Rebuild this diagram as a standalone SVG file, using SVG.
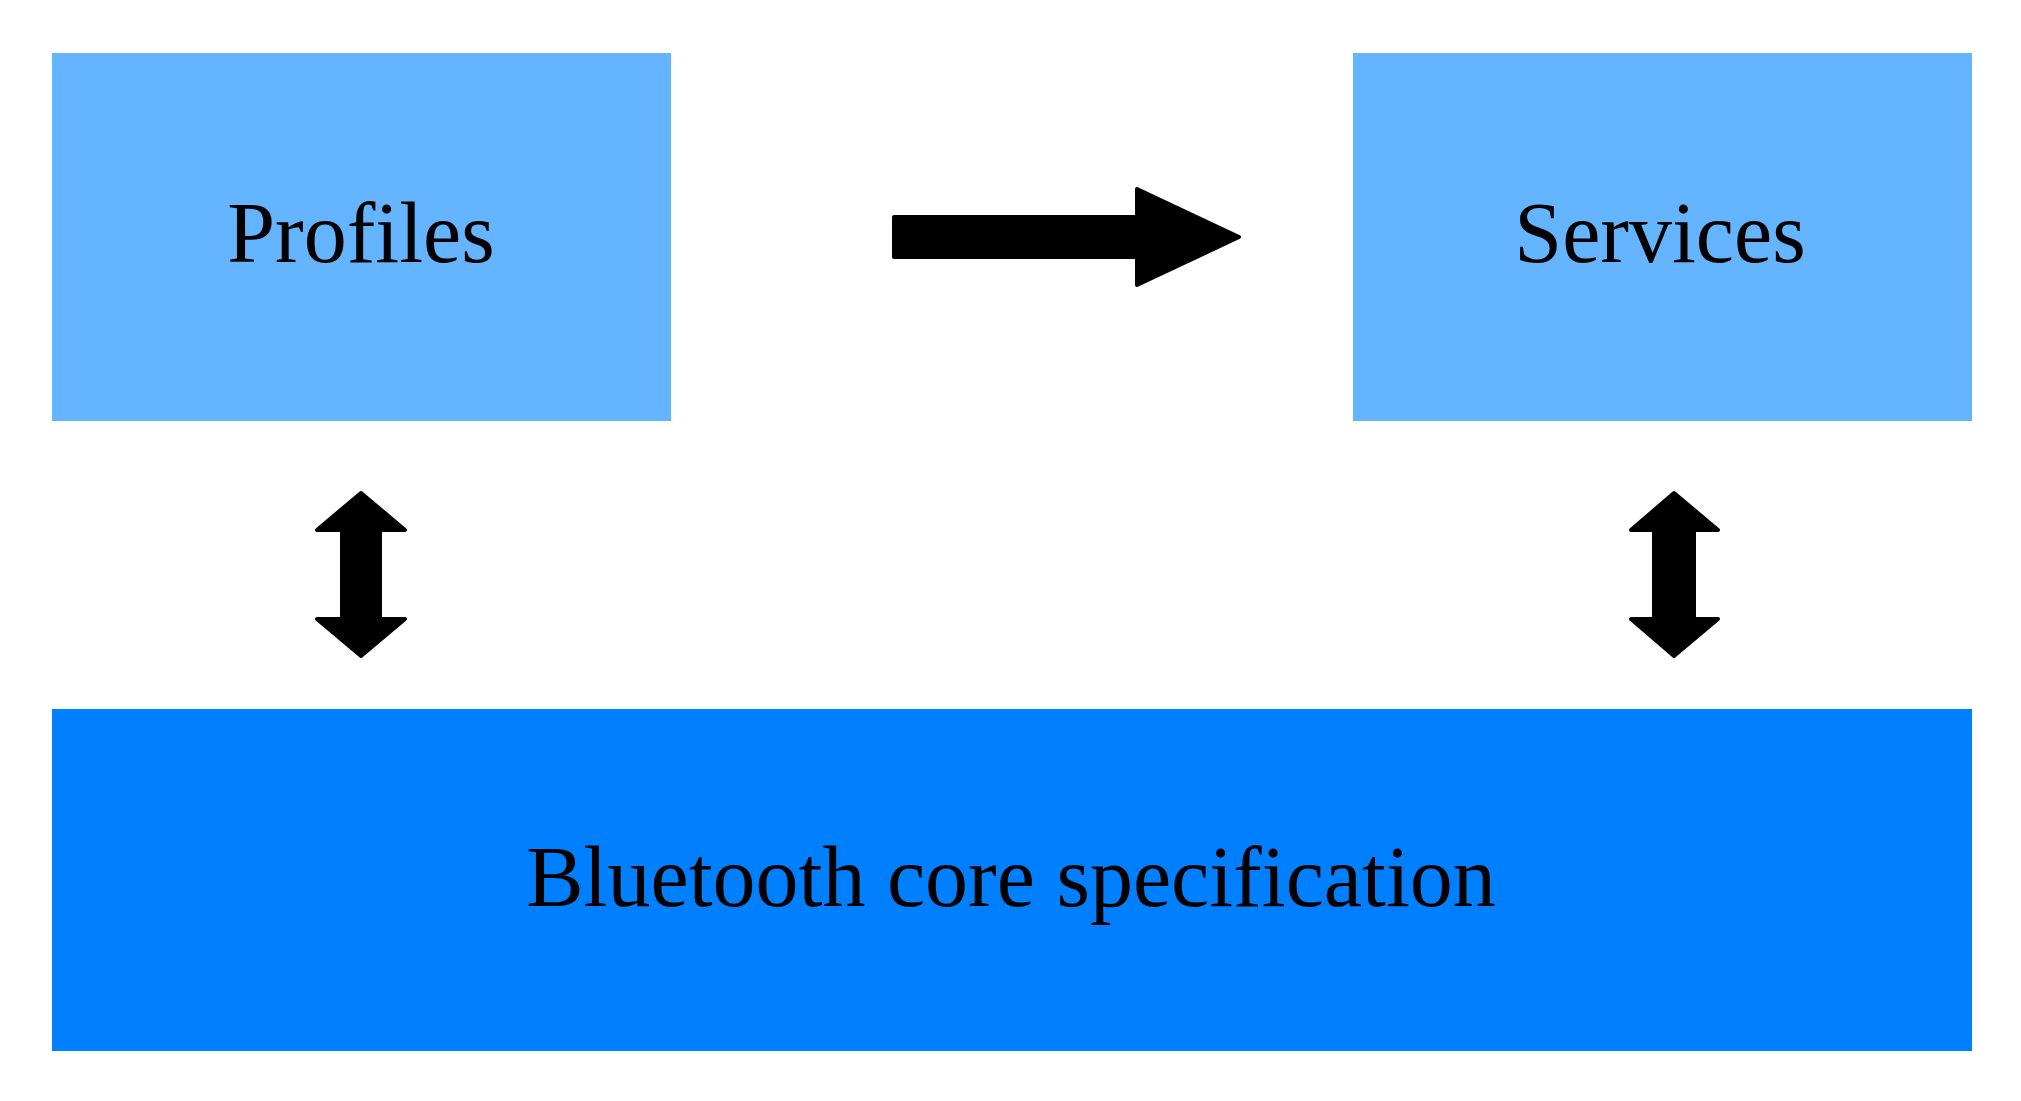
<svg xmlns="http://www.w3.org/2000/svg" width="2021" height="1101" viewBox="0 0 2021 1101">
<style>
.light{fill:#64b4ff}.dark{fill:#0080ff}
text{font-family:"Liberation Serif","DejaVu Serif",serif;font-size:86px;fill:#000;text-anchor:middle}
.arr{fill:#000;stroke:#000;stroke-width:4;stroke-linejoin:round}
</style>
<rect width="2021" height="1101" fill="#fff"/>
<g id="profiles"><rect class="light" x="52" y="53" width="619" height="368"/><text x="361" y="262">Profiles</text></g>
<g id="services"><rect class="light" x="1353" y="53" width="619" height="368"/><text x="1660" y="262">Services</text></g>
<g id="core"><rect class="dark" x="52" y="709" width="1920" height="342"/><text x="1011" y="906">Bluetooth core specification</text></g>
<g id="connectors">
<path class="arr" d="M894 217 H1137 V189 L1239 237 L1137 285 V257 H894 Z"/>
<path class="arr" d="M361 493 L405 530 H380 V619 H405 L361 656 L317 619 H342 V530 H317 Z"/>
<path class="arr" d="M1674 493 L1718 530 H1694 V619 H1718 L1674 656 L1631 619 H1654 V530 H1631 Z"/>
</g>
</svg>
